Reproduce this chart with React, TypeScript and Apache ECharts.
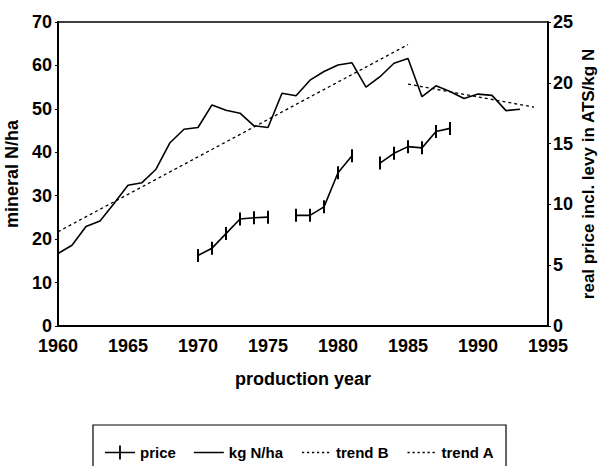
import React, { useEffect, useRef } from "react";
import * as echarts from "echarts";

const years: number[] = [
  1960, 1961, 1962, 1963, 1964, 1965, 1966, 1967, 1968, 1969, 1970, 1971,
  1972, 1973, 1974, 1975, 1976, 1977, 1978, 1979, 1980, 1981, 1982, 1983,
  1984, 1985, 1986, 1987, 1988, 1989, 1990, 1991, 1992, 1993,
];
const kgNha: number[] = [
  16.7, 18.6, 22.9, 24.2, 28.2, 32.4, 33.0, 36.1, 42.2, 45.3, 45.7, 50.9,
  49.7, 49.0, 46.1, 45.7, 53.6, 53.0, 56.6, 58.6, 60.1, 60.6, 55.0, 57.4,
  60.5, 61.6, 52.8, 55.3, 54.0, 52.4, 53.4, 53.1, 49.6, 49.9,
];

const priceYears: number[] = [
  1970, 1971, 1972, 1973, 1974, 1975, 1976, 1977, 1978, 1979, 1980, 1981,
  1982, 1983, 1984, 1985, 1986, 1987, 1988,
];
// null = gap in the price series
const priceValues: (number | null)[] = [
  5.8, 6.4, 7.6, 8.8, 8.9, 8.95, null, 9.1, 9.1, 9.8, 12.6, 14.0,
  null, 13.4, 14.2, 14.75, 14.65, 16.0, 16.25,
];

const trendBYears: number[] = [1960, 1985];
const trendBValues: number[] = [21.7, 64.8];
const trendAYears: number[] = [1985, 1994];
const trendAValues: number[] = [55.7, 50.4];

const xTicks = { min: 1960, max: 1995, interval: 5 };
const leftTicks = { min: 0, max: 70, interval: 10 };
const rightTicks = { min: 0, max: 25, interval: 5 };

const FONT = "'Liberation Sans', Arial, sans-serif";

// legend icons (30 x 14 box)
const ICON_PRICE =
  "path://M0,6.2 L14.1,6.2 L14.1,0 L15.9,0 L15.9,6.2 L30,6.2 L30,7.8 L15.9,7.8 L15.9,14 L14.1,14 L14.1,7.8 L0,7.8 Z";
const ICON_SOLID = "path://M0,0 L30,0 L30,1.5 L0,1.5 Z";
const dots: string[] = [];
for (let i = 0; i < 6; i++) {
  const x = 1 + i * 5;
  dots.push(`M${x},0 L${x + 2.2},0 L${x + 2.2},1.3 L${x},1.3 Z`);
}
const ICON_DOTTED = "path://M0,0 L0.01,0 L0.01,0.01 Z M29.99,1.29 L30,1.29 L30,1.3 Z " + dots.join(" ");

export default function App() {
  const ref = useRef<HTMLDivElement>(null);
  useEffect(() => {
    document.body.style.margin = "0";
    if (!ref.current) return;
    const chart = echarts.init(ref.current, null, { renderer: "svg" });
    const pair = (xs: number[], ys: (number | null)[]) =>
      xs.map((x, i) => [x, ys[i] === null ? "-" : ys[i]]);
    const tickLabel = {
      color: "#000",
      fontFamily: FONT,
      fontWeight: "bold" as const,
      fontSize: 18,
    };
    const nameStyle = {
      color: "#000",
      fontFamily: FONT,
      fontWeight: "bold" as const,
      fontSize: 18,
    };
    chart.setOption({
      animation: false,
      backgroundColor: "#fff",
      grid: {
        left: 58,
        right: 51,
        top: 22,
        bottom: 140,
        outerBoundsMode: "none",
        containLabel: false,
        show: true,
        borderColor: "#000",
        borderWidth: 1.5,
      },
      legend: {
        left: "center",
        top: 425,
        padding: [20, 12, 20, 12],
        borderColor: "#000",
        borderWidth: 1.2,
        itemWidth: 30,
        itemHeight: 14,
        itemGap: 18,
        symbolKeepAspect: true,
        textStyle: {
          color: "#000",
          fontFamily: FONT,
          fontWeight: "bold",
          fontSize: 15,
        },
        data: [
          { name: "price", icon: ICON_PRICE },
          { name: "kg N/ha", icon: ICON_SOLID },
          { name: "trend B", icon: ICON_DOTTED },
          { name: "trend A", icon: ICON_DOTTED },
        ],
      },
      xAxis: {
        type: "value",
        min: xTicks.min,
        max: xTicks.max,
        interval: xTicks.interval,
        name: "production year",
        nameLocation: "middle",
        nameGap: 44,
        nameTextStyle: nameStyle,
        splitLine: { show: false },
        axisLine: { lineStyle: { color: "#000", width: 2 } },
        axisTick: { show: false },
        axisLabel: { ...tickLabel, margin: 11, formatter: (v: number) => String(v) },
      },
      yAxis: [
        {
          type: "value",
          position: "left",
          min: leftTicks.min,
          max: leftTicks.max,
          interval: leftTicks.interval,
          name: "mineral N/ha",
          nameLocation: "middle",
          nameGap: 34,
          nameTextStyle: nameStyle,
          splitLine: { show: false },
          axisLine: { show: true, lineStyle: { color: "#000", width: 2 } },
          axisTick: { show: true, length: 3, lineStyle: { color: "#000" } },
          axisLabel: { ...tickLabel, margin: 6 },
        },
        {
          type: "value",
          position: "right",
          min: rightTicks.min,
          max: rightTicks.max,
          interval: rightTicks.interval,
          name: "real price incl. levy in ATS/kg N",
          nameLocation: "middle",
          nameGap: 32,
          nameMoveOverlap: false,
          nameRotate: 90,
          nameTextStyle: { ...nameStyle, fontSize: 17 },
          splitLine: { show: false },
          axisLine: { show: true, lineStyle: { color: "#000", width: 2 } },
          axisTick: { show: true, length: 3, lineStyle: { color: "#000" } },
          axisLabel: { ...tickLabel, margin: 5 },
        },
      ],
      series: [
        {
          name: "price",
          type: "line",
          yAxisIndex: 1,
          data: pair(priceYears, priceValues),
          symbol: "rect",
          symbolSize: [2, 13],
          symbolKeepAspect: false,
          showSymbol: true,
          connectNulls: false,
          lineStyle: { color: "#000", width: 1.6 },
          itemStyle: { color: "#000", borderWidth: 0 },
          z: 3,
        },
        {
          name: "kg N/ha",
          type: "line",
          yAxisIndex: 0,
          data: pair(years, kgNha),
          symbol: "none",
          lineStyle: { color: "#000", width: 1.6 },
          itemStyle: { color: "#000" },
          z: 3,
        },
        {
          name: "trend B",
          type: "line",
          yAxisIndex: 0,
          data: pair(trendBYears, trendBValues),
          symbol: "none",
          lineStyle: { color: "#000", width: 1.3, type: [3, 3] },
          itemStyle: { color: "#000" },
          z: 2,
        },
        {
          name: "trend A",
          type: "line",
          yAxisIndex: 0,
          data: pair(trendAYears, trendAValues),
          symbol: "none",
          lineStyle: { color: "#000", width: 1.3, type: [3, 3] },
          itemStyle: { color: "#000" },
          z: 2,
        },
      ],
    });
    return () => chart.dispose();
  }, []);
  return <div ref={ref} style={{ width: 599, height: 466 }} />;
}
